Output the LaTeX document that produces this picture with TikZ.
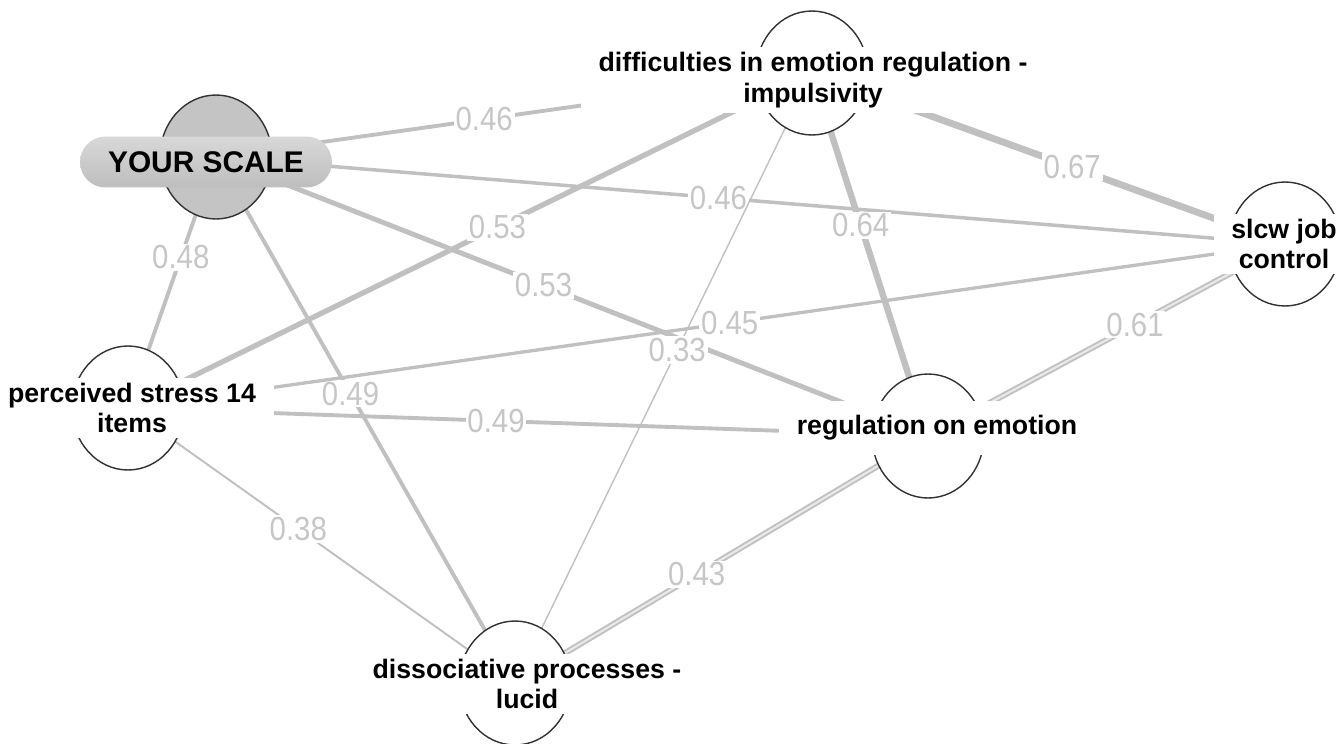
\documentclass[tikz,border=0pt]{standalone}
\usepackage{fontspec}
\setmainfont{Liberation Sans}
\newfontfamily\numfont{Liberation Sans}[FakeStretch=0.88]
\usepackage{tikz}
\usetikzlibrary{shapes.geometric,positioning,backgrounds}
\definecolor{edgegray}{RGB}{192,192,192}
\definecolor{labgray}{RGB}{198,198,198}
\definecolor{ringgray}{RGB}{50,50,50}
\definecolor{scalegray}{RGB}{196,196,196}
\definecolor{pilltop}{RGB}{216,216,216}
\definecolor{pillbot}{RGB}{190,190,190}

\begin{document}
\begin{tikzpicture}[x=0.02cm,y=-0.02cm,
  var/.style={ellipse,draw=ringgray,line width=0.8pt,fill=white,minimum width=2.24cm,minimum height=2.48cm,inner sep=0pt},
  edge/.style={draw=edgegray},
  wlab/.style={fill=white,text=labgray,inner sep=1pt,font=\numfont\fontsize{19}{20}\selectfont},
  lbl/.style={fill=white,align=center,inner xsep=10pt,inner ysep=3pt,font=\bfseries\fontsize{15.2}{17.5}\selectfont}]
  \path[use as bounding box] (0,0) rectangle (1343,744);
  \node[var,fill=scalegray] (ys) at (216,157) {};
  \node[var] (diff) at (812,73) {};
  \node[var] (slcw) at (1285,244) {};
  \node[var] (ps) at (128,408) {};
  \node[var] (reg) at (928,436) {};
  \node[var] (dissoc) at (515,683) {};
  \begin{scope}[on background layer]
    \foreach \a/\b/\w/\p/\v in {ys/diff/2.2/0.45/0.46, ys/slcw/2.0/0.47/0.46, ys/reg/2.8/0.46/0.53,
        ys/ps/2.2/0.40/0.48, ys/dissoc/2.2/0.45/0.49, diff/slcw/3.9/0.55/0.67, diff/reg/3.6/0.42/0.64,
        diff/ps/3.0/0.46/0.53, diff/dissoc/0.8/0.454/0.33, ps/slcw/1.9/0.52/0.45, ps/reg/2.2/0.46/0.49,
        ps/dissoc/1.1/0.44/0.38}
      \draw[edge,line width=\w pt] (\a.center) -- node[wlab,pos=\p] {\v} (\b.center);
    \foreach \a/\b/\p/\v in {reg/slcw/0.58/0.61, reg/dissoc/0.56/0.43}
      \draw[edge,line width=1.1pt,double=edgegray!35,double distance=1.2pt] (\a.center) -- node[wlab,pos=\p] {\v} (\b.center);
  \end{scope}
  \node[rounded corners=14.5pt,minimum width=5.04cm,minimum height=1.02cm,top color=pilltop,bottom color=pillbot,
    font=\bfseries\fontsize{17}{18}\selectfont] (ysl) at (206,162) {YOUR SCALE};
  \node[lbl] (diffl) at (813,80) {difficulties in emotion regulation -\\impulsivity};
  \node[lbl] (slcwl) at (1284,244) {slcw job\\control};
  \node[lbl] (psl) at (132,408) {perceived stress 14\\items};
  \node[lbl,inner ysep=8pt] (regl) at (937,428) {regulation on emotion};
  \node[lbl] (dissocl) at (527,684) {dissociative processes -\\lucid};
\end{tikzpicture}
\end{document}
